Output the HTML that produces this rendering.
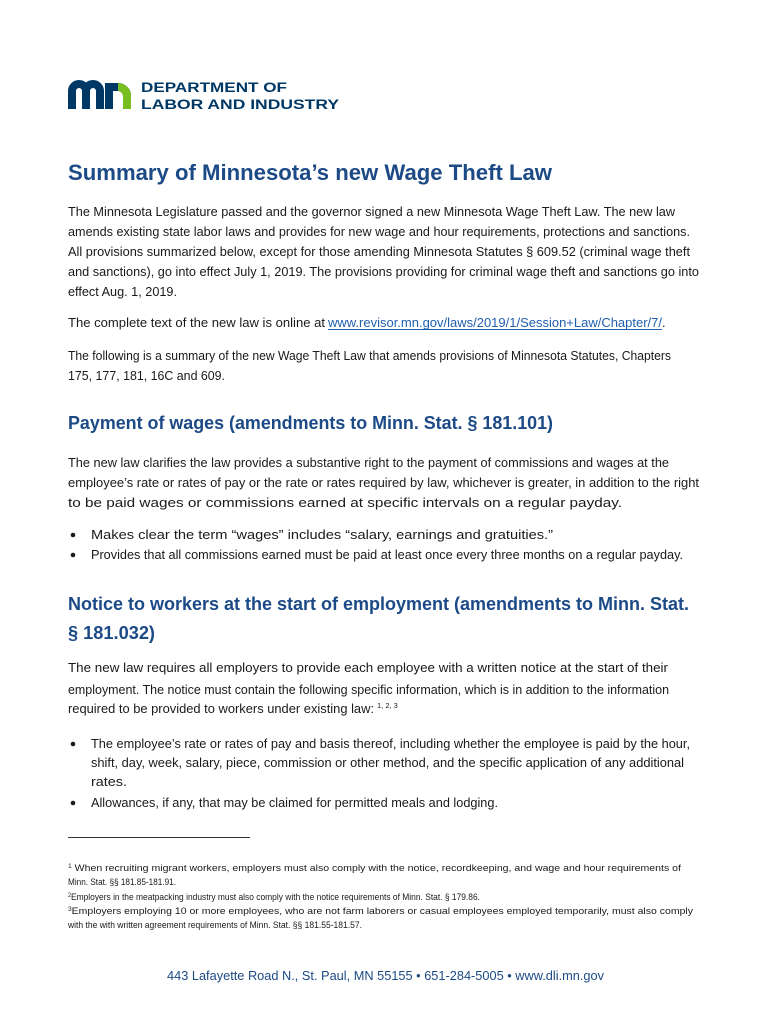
<!DOCTYPE html>
<html><head><meta charset="utf-8"><style>
html,body{margin:0;padding:0;background:#fff}
svg{display:block}
text{font-family:"Liberation Sans",sans-serif;fill:#1a1a1a}
.b{font-size:12.5px}
.f{font-size:9.5px}
.h{font-weight:bold;fill:#1c4a86}
</style></head><body>
<svg width="770" height="1024" viewBox="0 0 770 1024" xmlns="http://www.w3.org/2000/svg">
<!-- logo -->
<g fill="none" stroke-width="8">
<path d="M72 109 V91 A7 7 0 0 1 86 91 V109 M86 91 A7 7 0 0 1 100 91 V109" stroke="#003865"/>
<path d="M109 109 V87 H118 A9 9 0 0 1 127 96" stroke="#003865"/>
<path d="M118 87 A9 9 0 0 1 127 96 V109" stroke="#78be20"/>
</g>
<text x="141" y="92" font-size="13.5" font-weight="bold" style="fill:#003865" textLength="146" lengthAdjust="spacingAndGlyphs">DEPARTMENT OF</text>
<text x="141" y="109" font-size="13.5" font-weight="bold" style="fill:#003865" textLength="198" lengthAdjust="spacingAndGlyphs">LABOR AND INDUSTRY</text>

<text x="68" y="180" font-size="22" class="h" textLength="484" lengthAdjust="spacingAndGlyphs">Summary of Minnesota’s new Wage Theft Law</text>

<g class="b">
<text x="68" y="216" textLength="607" lengthAdjust="spacingAndGlyphs">The Minnesota Legislature passed and the governor signed a new Minnesota Wage Theft Law. The new law</text>
<text x="68" y="236" textLength="622" lengthAdjust="spacingAndGlyphs">amends existing state labor laws and provides for new wage and hour requirements, protections and sanctions.</text>
<text x="68" y="256" textLength="622" lengthAdjust="spacingAndGlyphs">All provisions summarized below, except for those amending Minnesota Statutes § 609.52 (criminal wage theft</text>
<text x="68" y="276" textLength="631" lengthAdjust="spacingAndGlyphs">and sanctions), go into effect July 1, 2019. The provisions providing for criminal wage theft and sanctions go into</text>
<text x="68" y="296" textLength="109" lengthAdjust="spacingAndGlyphs">effect Aug. 1, 2019.</text>

<text x="68" y="327" textLength="257" lengthAdjust="spacingAndGlyphs">The complete text of the new law is online at</text>
<text x="328" y="327" style="fill:#1f5fae" textLength="334" lengthAdjust="spacingAndGlyphs">www.revisor.mn.gov/laws/2019/1/Session+Law/Chapter/7/</text>
<text x="662" y="327">.</text>
<rect x="328" y="329" width="334" height="1" fill="#1f5fae"/>

<text x="68" y="360" textLength="603" lengthAdjust="spacingAndGlyphs">The following is a summary of the new Wage Theft Law that amends provisions of Minnesota Statutes, Chapters</text>
<text x="68" y="380" textLength="157" lengthAdjust="spacingAndGlyphs">175, 177, 181, 16C and 609.</text>
</g>

<text x="68" y="429" font-size="18" class="h" textLength="485" lengthAdjust="spacingAndGlyphs">Payment of wages (amendments to Minn. Stat. § 181.101)</text>

<g class="b">
<text x="68" y="467" textLength="601" lengthAdjust="spacingAndGlyphs">The new law clarifies the law provides a substantive right to the payment of commissions and wages at the</text>
<text x="68" y="487" textLength="631" lengthAdjust="spacingAndGlyphs">employee’s rate or rates of pay or the rate or rates required by law, whichever is greater, in addition to the right</text>
<text x="68" y="507" textLength="554" lengthAdjust="spacingAndGlyphs">to be paid wages or commissions earned at specific intervals on a regular payday.</text>
<circle cx="73" cy="535" r="2.3" fill="#1a1a1a"/>
<text x="91" y="539" textLength="462" lengthAdjust="spacingAndGlyphs">Makes clear the term “wages” includes “salary, earnings and gratuities.”</text>
<circle cx="73" cy="555" r="2.3" fill="#1a1a1a"/>
<text x="91" y="559" textLength="592" lengthAdjust="spacingAndGlyphs">Provides that all commissions earned must be paid at least once every three months on a regular payday.</text>
</g>

<text x="68" y="610" font-size="18" class="h" textLength="621" lengthAdjust="spacingAndGlyphs">Notice to workers at the start of employment (amendments to Minn. Stat.</text>
<text x="68" y="639" font-size="18" class="h" textLength="87" lengthAdjust="spacingAndGlyphs">§ 181.032)</text>

<g class="b">
<text x="68" y="672" textLength="600" lengthAdjust="spacingAndGlyphs">The new law requires all employers to provide each employee with a written notice at the start of their</text>
<text x="68" y="694" textLength="601" lengthAdjust="spacingAndGlyphs">employment. The notice must contain the following specific information, which is in addition to the information</text>
<text x="68" y="713" textLength="306" lengthAdjust="spacingAndGlyphs">required to be provided to workers under existing law:</text>
<text x="377" y="708" font-size="7.5">1,  2,  3</text>
<circle cx="73" cy="744" r="2.3" fill="#1a1a1a"/>
<text x="91" y="748" textLength="599" lengthAdjust="spacingAndGlyphs">The employee’s rate or rates of pay and basis thereof, including whether the employee is paid by the hour,</text>
<text x="91" y="767" textLength="593" lengthAdjust="spacingAndGlyphs">shift, day, week, salary, piece, commission or other method, and the specific application of any additional</text>
<text x="91" y="786" textLength="36" lengthAdjust="spacingAndGlyphs">rates.</text>
<circle cx="73" cy="803" r="2.3" fill="#1a1a1a"/>
<text x="91" y="807" textLength="407" lengthAdjust="spacingAndGlyphs">Allowances, if any, that may be claimed for permitted meals and lodging.</text>
</g>

<rect x="68" y="837" width="182" height="1" fill="#333"/>

<g class="f">
<text x="68" y="871" textLength="613" lengthAdjust="spacingAndGlyphs"><tspan font-size="6" dy="-3">1</tspan><tspan dy="3"> When recruiting migrant workers, employers must also comply with the notice, recordkeeping, and wage and hour requirements of</tspan></text>
<text x="68" y="885" textLength="108" lengthAdjust="spacingAndGlyphs">Minn. Stat. §§ 181.85-181.91.</text>
<text x="68" y="900" textLength="412" lengthAdjust="spacingAndGlyphs"><tspan font-size="6" dy="-3">2</tspan><tspan dy="3">Employers in the meatpacking industry must also comply with the notice requirements of Minn. Stat. § 179.86.</tspan></text>
<text x="68" y="914" textLength="625" lengthAdjust="spacingAndGlyphs"><tspan font-size="6" dy="-3">3</tspan><tspan dy="3">Employers employing 10 or more employees, who are not farm laborers or casual employees employed temporarily, must also comply</tspan></text>
<text x="68" y="928" textLength="294" lengthAdjust="spacingAndGlyphs">with the with written agreement requirements of Minn. Stat. §§ 181.55-181.57.</text>
</g>

<text x="167" y="980" font-size="13" style="fill:#1c4a86" textLength="437" lengthAdjust="spacingAndGlyphs">443 Lafayette Road N., St. Paul, MN  55155 • 651-284-5005 • www.dli.mn.gov</text>
</svg>
</body></html>
